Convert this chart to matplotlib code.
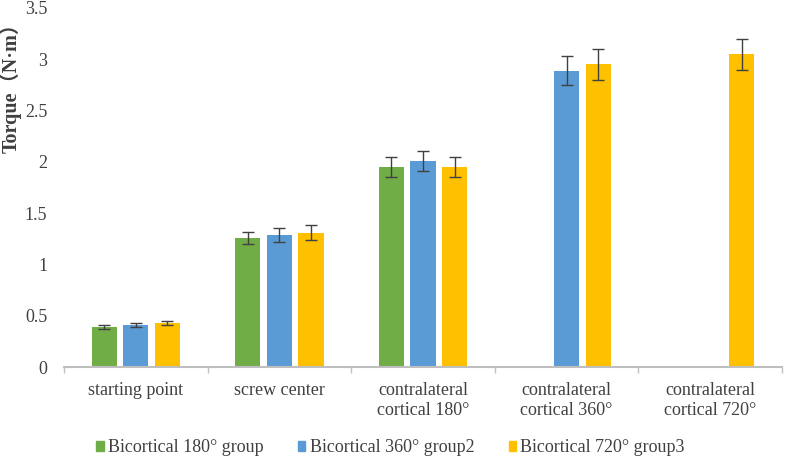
import numpy as np
import matplotlib
matplotlib.use("Agg")
import matplotlib.pyplot as plt
from matplotlib.patches import Rectangle

categories = ["starting point", "screw center", "contralateral\ncortical 180°",
              "contralateral\ncortical 360°", "contralateral\ncortical 720°"]
series_names = ["Bicortical 180° group", "Bicortical 360° group2", "Bicortical 720° group3"]
g1_vals = [0.39, 1.26, 1.95, np.nan, np.nan]
g1_err = [0.02, 0.06, 0.10, np.nan, np.nan]
g2_vals = [0.41, 1.29, 2.01, 2.89, np.nan]
g2_err = [0.02, 0.07, 0.10, 0.14, np.nan]
g3_vals = [0.43, 1.31, 1.95, 2.95, 3.05]
g3_err = [0.02, 0.07, 0.10, 0.15, 0.15]
colors = ["#70AD47", "#5B9BD5", "#FFC000"]
yticks = [0, 0.5, 1, 1.5, 2, 2.5, 3, 3.5]
ytick_labels = ["0", "0.5", "1", "1.5", "2", "2.5", "3", "3.5"]

plt.rcParams['font.family'] = ['Liberation Serif', 'Noto Sans CJK SC', 'DejaVu Sans']

fig = plt.figure(figsize=(7.86, 4.58), dpi=100)
ax = fig.add_axes([64/786, 1-367/458, (782-64)/786, (367-8)/458])

x = np.arange(len(categories))
width = 0.175
offsets = [-0.22, 0.0, 0.22]
vals = [g1_vals, g2_vals, g3_vals]
errs = [g1_err, g2_err, g3_err]
for i in range(3):
    ax.bar(x + offsets[i], vals[i], width, color=colors[i], label=series_names[i], zorder=2)
    ax.errorbar(x + offsets[i], vals[i], yerr=errs[i], fmt='none', ecolor='#404040',
                elinewidth=1.0, capsize=4, capthick=1.0, zorder=3)

ax.set_xlim(-0.5, len(categories) - 0.5)
ax.set_ylim(0, 3.5)
ax.set_yticks(yticks)
ax.set_yticklabels(ytick_labels, fontsize=13, color='#404040')
ax.set_xticks(x)
ax.set_xticklabels(categories, fontsize=13, color='#404040', linespacing=1.2)
ax.tick_params(axis='x', which='major', length=0, pad=11)
ax.tick_params(axis='y', length=0, pad=12)
ax.set_xticks(np.arange(-0.5, len(categories)), minor=True)
ax.tick_params(axis='x', which='minor', length=4, color='#BFBFBF', width=1)

for s in ['top', 'right', 'left']:
    ax.spines[s].set_visible(False)
ax.spines['bottom'].set_color('#BFBFBF')
ax.spines['bottom'].set_linewidth(1.5)

fig.text(11/786, 1-83/458, "Torque（N·m）", fontsize=14.5, fontweight='bold', color='#404040',
         rotation=90, ha='center', va='center')

handles = [Rectangle((0, 0), 1, 1, color=c) for c in colors]
fig.legend(handles, series_names, loc='center', bbox_to_anchor=(0.497, 1-448/458),
           ncol=3, frameon=False, fontsize=13, handlelength=0.4, handleheight=0.4,
           handletextpad=0.25, columnspacing=1.9, labelcolor='#404040')

fig.savefig("out.png", dpi=100)
